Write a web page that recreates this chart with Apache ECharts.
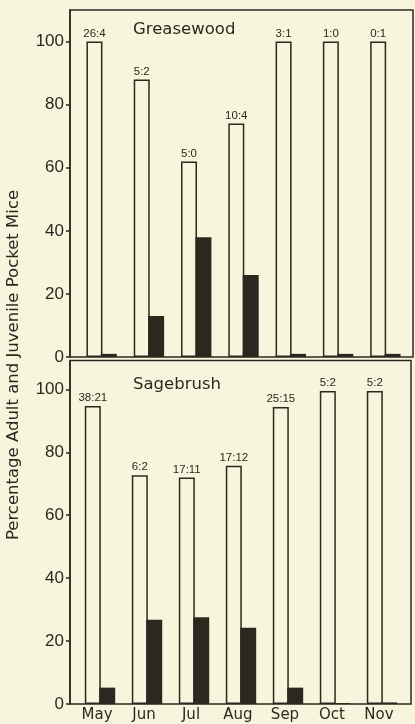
<!DOCTYPE html>
<html>
<head>
<meta charset="utf-8">
<script src="https://cdn.jsdelivr.net/npm/echarts@6/dist/echarts.min.js"></script>
<style>
html,body{margin:0;padding:0;background:#f8f5dd;}
#c{width:415px;height:724px;}
</style>
</head>
<body>
<div id="c"></div>
<script>
var months = ['May','Jun','Jul','Aug','Sep','Oct','Nov'];
var greasewoodAdult = [100, 88, 62, 74, 100, 100, 100];
var greasewoodJuvenile = [1, 13, 38, 26, 1, 1, 1];
var greasewoodLabels = ['26:4','5:2','5:0','10:4','3:1','1:0','0:1'];
var sagebrushAdult = [94.7, 72.7, 72, 75.7, 94.4, 99.5, 99.5];
var sagebrushJuvenile = [5.2, 26.8, 27.6, 24.2, 5.2, 0.3, 0.5];
var sagebrushLabels = ['38:21','6:2','17:11','17:12','25:15','5:2','5:2'];
var yTicks = [0, 20, 40, 60, 80, 100];

var BG = '#f8f5dd', INK = '#2c2820';
var chart = echarts.init(document.getElementById('c'));

function yAxis(idx, max, offset) {
  return {
    type: 'value', gridIndex: idx, min: 0, max: max, interval: 20, offset: offset,
    axisLine: {show: true, lineStyle: {color: INK, width: 1.5}},
    axisTick: {show: true, inside: false, length: 4, lineStyle: {color: INK, width: 1.5}, customValues: yTicks},
    axisLabel: {show: true, customValues: yTicks, color: INK, fontFamily: 'Liberation Sans', fontSize: 17, margin: 6},
    splitLine: {show: false}
  };
}
function xAxis(idx, showLabels) {
  return {
    type: 'category', gridIndex: idx, data: months,
    axisLine: {show: false}, axisTick: {show: false},
    axisLabel: {show: showLabels, color: INK, fontFamily: 'DejaVu Sans', fontSize: 15, margin: 4, padding: [0, 6, 0, 0]}
  };
}
function adult(idx, data, labels) {
  return {
    type: 'bar', xAxisIndex: idx, yAxisIndex: idx, data: data, barWidth: 16, barGap: '-10%',
    itemStyle: {color: BG, borderColor: INK, borderWidth: 1.5},
    label: {show: true, position: 'top', distance: 2, color: INK, fontFamily: 'Liberation Sans', fontSize: 11.5,
      formatter: function (p) { return labels[p.dataIndex]; }},
    z: 2, silent: true, animation: false
  };
}
function juvenile(idx, data) {
  return {
    type: 'bar', xAxisIndex: idx, yAxisIndex: idx, data: data, barWidth: 16, barGap: '-10%',
    itemStyle: {color: INK}, z: 3, silent: true, animation: false
  };
}

chart.setOption({
  backgroundColor: BG,
  animation: false,
  grid: [
    {left: 78, width: 331, top: 10, height: 347},
    {left: 76.5, width: 329, top: 361, height: 343}
  ],
  xAxis: [xAxis(0, false), xAxis(1, true)],
  yAxis: [yAxis(0, 110, 8), yAxis(1, 109, 6.5)],
  series: [
    adult(0, greasewoodAdult, greasewoodLabels),
    juvenile(0, greasewoodJuvenile),
    adult(1, sagebrushAdult, sagebrushLabels),
    juvenile(1, sagebrushJuvenile)
  ],
  graphic: [
    {type: 'rect', shape: {x: 70, y: 10, width: 343, height: 347}, style: {fill: 'none', stroke: INK, lineWidth: 1.5}, z: 10},
    {type: 'rect', shape: {x: 70, y: 360.5, width: 341, height: 343.5}, style: {fill: 'none', stroke: INK, lineWidth: 1.5}, z: 10},
    {type: 'text', left: 133, top: 21, style: {text: 'Greasewood', fill: INK, font: '16.5px "DejaVu Sans"'}},
    {type: 'text', left: 133, top: 376, style: {text: 'Sagebrush', fill: INK, font: '16.5px "DejaVu Sans"'}},
    {type: 'text', x: 14, y: 365, rotation: Math.PI / 2,
      style: {text: 'Percentage Adult and Juvenile Pocket Mice', fill: INK, font: '16.5px "DejaVu Sans"', align: 'center', verticalAlign: 'middle'}}
  ]
});
</script>
</body>
</html>
